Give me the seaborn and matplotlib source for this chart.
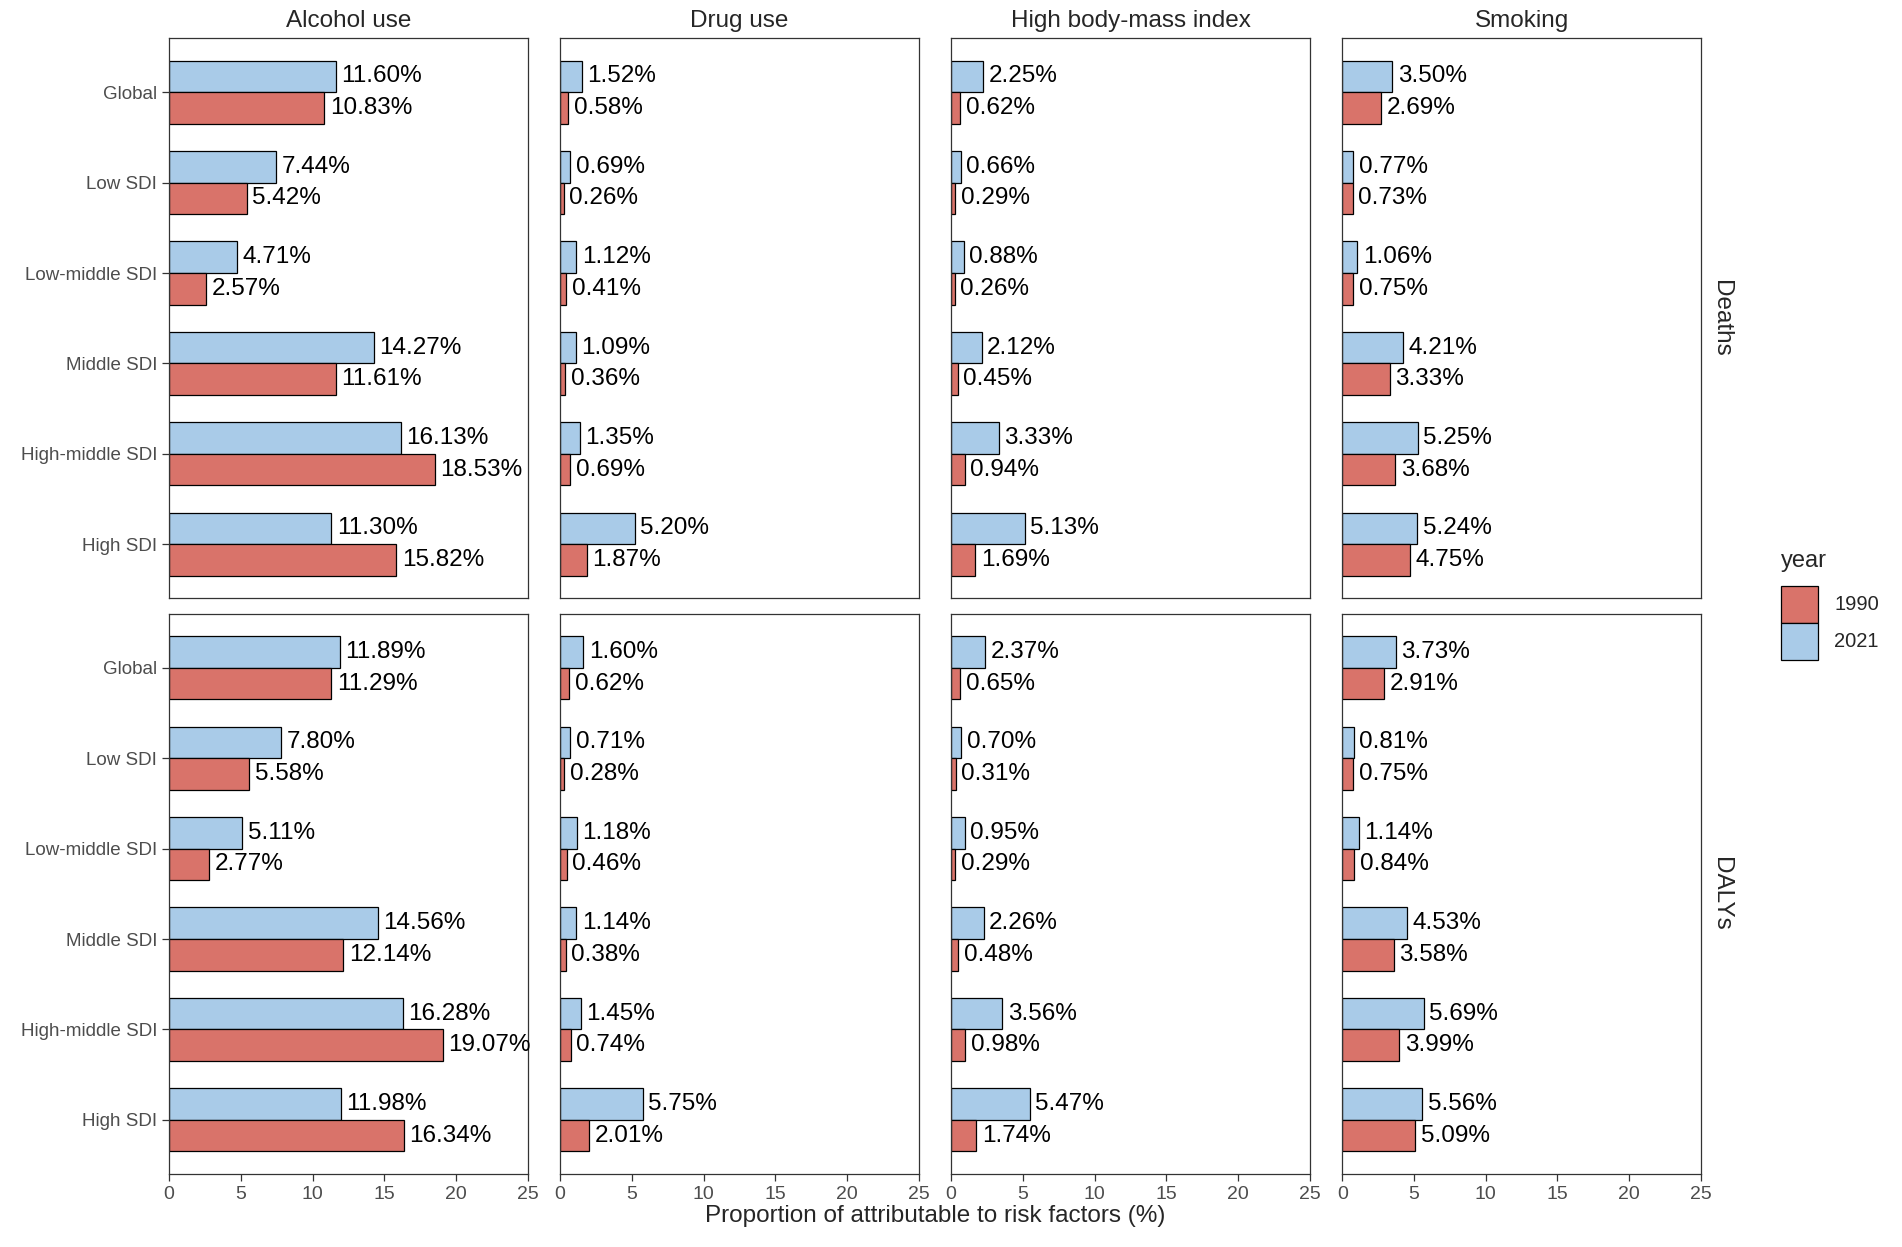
import pandas as pd
import matplotlib.pyplot as plt
import seaborn as sns
from matplotlib.patches import Patch

# Kategorien
locations = ['Global', 'Low SDI', 'Low-middle SDI', 'Middle SDI', 'High-middle SDI', 'High SDI']
risks = ['Alcohol use', 'Drug use', 'High body-mass index', 'Smoking']
measures = ['Deaths', 'DALYs']
years = ['1990', '2021']

# Deaths (%)
deaths_alcohol_1990 = [10.83, 5.42, 2.57, 11.61, 18.53, 15.82]
deaths_alcohol_2021 = [11.60, 7.44, 4.71, 14.27, 16.13, 11.30]
deaths_drug_1990 = [0.58, 0.26, 0.41, 0.36, 0.69, 1.87]
deaths_drug_2021 = [1.52, 0.69, 1.12, 1.09, 1.35, 5.20]
deaths_bmi_1990 = [0.62, 0.29, 0.26, 0.45, 0.94, 1.69]
deaths_bmi_2021 = [2.25, 0.66, 0.88, 2.12, 3.33, 5.13]
deaths_smoking_1990 = [2.69, 0.73, 0.75, 3.33, 3.68, 4.75]
deaths_smoking_2021 = [3.50, 0.77, 1.06, 4.21, 5.25, 5.24]

# DALYs (%)
dalys_alcohol_1990 = [11.29, 5.58, 2.77, 12.14, 19.07, 16.34]
dalys_alcohol_2021 = [11.89, 7.80, 5.11, 14.56, 16.28, 11.98]
dalys_drug_1990 = [0.62, 0.28, 0.46, 0.38, 0.74, 2.01]
dalys_drug_2021 = [1.60, 0.71, 1.18, 1.14, 1.45, 5.75]
dalys_bmi_1990 = [0.65, 0.31, 0.29, 0.48, 0.98, 1.74]
dalys_bmi_2021 = [2.37, 0.70, 0.95, 2.26, 3.56, 5.47]
dalys_smoking_1990 = [2.91, 0.75, 0.84, 3.58, 3.99, 5.09]
dalys_smoking_2021 = [3.73, 0.81, 1.14, 4.53, 5.69, 5.56]

series = {
    ('Deaths', 'Alcohol use'): (deaths_alcohol_1990, deaths_alcohol_2021),
    ('Deaths', 'Drug use'): (deaths_drug_1990, deaths_drug_2021),
    ('Deaths', 'High body-mass index'): (deaths_bmi_1990, deaths_bmi_2021),
    ('Deaths', 'Smoking'): (deaths_smoking_1990, deaths_smoking_2021),
    ('DALYs', 'Alcohol use'): (dalys_alcohol_1990, dalys_alcohol_2021),
    ('DALYs', 'Drug use'): (dalys_drug_1990, dalys_drug_2021),
    ('DALYs', 'High body-mass index'): (dalys_bmi_1990, dalys_bmi_2021),
    ('DALYs', 'Smoking'): (dalys_smoking_1990, dalys_smoking_2021),
}

rows = []
for (measure, risk), (v1990, v2021) in series.items():
    for loc, a, b in zip(locations, v1990, v2021):
        rows.append({'measure': measure, 'risk': risk, 'location': loc, 'year': '1990', 'value': a})
        rows.append({'measure': measure, 'risk': risk, 'location': loc, 'year': '2021', 'value': b})
df = pd.DataFrame(rows)

palette = {'1990': '#D9736A', '2021': '#A9CBE8'}
grey = '#4D4D4D'

sns.set_style('white')
plt.rcParams['font.family'] = ['Liberation Sans', 'DejaVu Sans']

fig, axes = plt.subplots(2, 4, figsize=(19.02, 12.47), dpi=100, sharex=True, sharey=True)
fig.subplots_adjust(left=0.0889, right=0.8943, top=0.9695, bottom=0.0585, wspace=0.09, hspace=0.027)

for i, measure in enumerate(measures):
    for j, risk in enumerate(risks):
        ax = axes[i, j]
        sub = df[(df['measure'] == measure) & (df['risk'] == risk)]
        sns.barplot(data=sub, x='value', y='location', hue='year', order=locations,
                    hue_order=['2021', '1990'], palette=palette, saturation=1, orient='h',
                    width=0.7, edgecolor='black', linewidth=0.9, legend=False, ax=ax)
        for cont in ax.containers:
            ax.bar_label(cont, labels=[f'{v:.2f}%' for v in cont.datavalues],
                         padding=4, fontsize=17.5, color='black')
        ax.set_xlim(0, 25)
        ax.set_ylim(5.6, -0.6)
        ax.set_xticks([0, 5, 10, 15, 20, 25])
        ax.set_xlabel('')
        ax.set_ylabel('')
        for s in ax.spines.values():
            s.set_visible(True)
            s.set_color('#333333')
            s.set_linewidth(0.9)
        ax.tick_params(axis='both', length=5, width=0.9, color='#333333', labelcolor=grey)
        ax.tick_params(axis='y', labelsize=13.5, left=(j == 0), labelleft=(j == 0))
        ax.tick_params(axis='x', labelsize=14, bottom=(i == 1), labelbottom=(i == 1))
        if i == 0:
            ax.set_title(risk, fontsize=17.5, pad=8)
        if j == 3:
            ax.text(1.055, 0.5, measure, transform=ax.transAxes, rotation=270,
                    va='center', ha='center', fontsize=17.5)

fig.text(0.4916, 0.025, 'Proportion of attributable to risk factors (%)',
         ha='center', va='center', fontsize=17.5)

handles = [Patch(facecolor=palette[y], edgecolor='black', linewidth=0.9, label=y) for y in years]
leg = fig.legend(handles=handles, title='year', loc='center left', bbox_to_anchor=(0.932, 0.515),
                 frameon=False, fontsize=14.5, title_fontsize=17, handlelength=1.85,
                 handleheight=2.45, handletextpad=0.8, labelspacing=0.0, borderaxespad=0)
leg._legend_box.align = 'left'
leg._legend_box.sep = 10

plt.savefig('out.png', dpi=100)
